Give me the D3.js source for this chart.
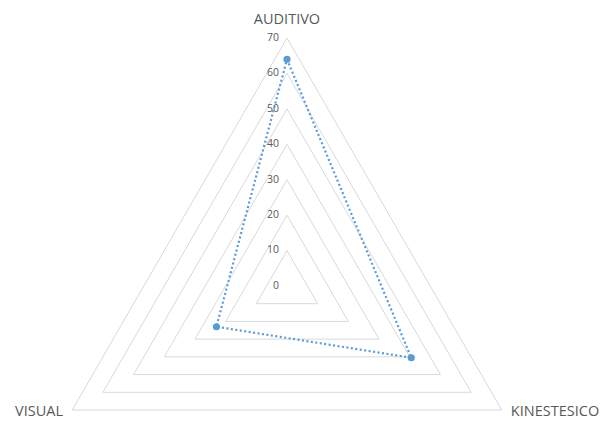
<!DOCTYPE html>
<html><head><meta charset="utf-8">
<script src="https://cdn.jsdelivr.net/npm/d3@7"></script>
<style>body{margin:0;background:#fff}svg{display:block}</style>
</head><body>
<svg id="c" width="609" height="421"></svg>
<script>
const categories = ["AUDITIVO", "KINESTESICO", "VISUAL"];
const values = [64, 40.5, 23];
const ticks = [0, 10, 20, 30, 40, 50, 60, 70];

const svg = d3.select("#c");
const cx = 287, cy = 286, R = 248;
const r = d3.scaleLinear().domain([0, 70]).range([0, R]);
const ang = i => -Math.PI / 2 + i * 2 * Math.PI / categories.length;
const pt = (i, v) => [cx + r(v) * Math.cos(ang(i)), cy + r(v) * Math.sin(ang(i))];

// grid triangles
ticks.forEach(t => {
  svg.append("polygon")
    .attr("points", categories.map((c, i) => pt(i, t).join(",")).join(" "))
    .attr("fill", "none").attr("stroke", "#d9d9d9").attr("stroke-width", 1);
});

// tick labels
svg.selectAll("text.tick").data(ticks).join("text")
  .attr("class", "tick")
  .attr("x", cx - 8).attr("y", d => cy - r(d))
  .attr("text-anchor", "end").attr("dominant-baseline", "middle")
  .attr("font-family", "Open Sans, Calibri, sans-serif").attr("font-size", 10.5)
  .attr("fill", "#595959").text(d => d);

// category labels
const labelPos = [
  {x: cx, y: 24, anchor: "middle"},
  {x: 555, y: 416, anchor: "middle"},
  {x: 39, y: 416, anchor: "middle"}
];
categories.forEach((c, i) => {
  svg.append("text").attr("x", labelPos[i].x).attr("y", labelPos[i].y)
    .attr("text-anchor", labelPos[i].anchor)
    .attr("font-family", "Open Sans, Calibri, sans-serif").attr("font-size", 14.5)
    .attr("fill", "#595959").text(c);
});

// series
const line = d3.line().curve(d3.curveLinearClosed);
svg.append("path")
  .attr("d", line(values.map((v, i) => pt(i, v))))
  .attr("fill", "none").attr("stroke", "#5B9BD5").attr("stroke-width", 2.2)
  .attr("stroke-dasharray", "2,2.5");
svg.selectAll("circle.m").data(values).join("circle")
  .attr("class", "m")
  .attr("cx", (v, i) => pt(i, v)[0]).attr("cy", (v, i) => pt(i, v)[1])
  .attr("r", 3.6).attr("fill", "#5B9BD5");
</script>
</body></html>
